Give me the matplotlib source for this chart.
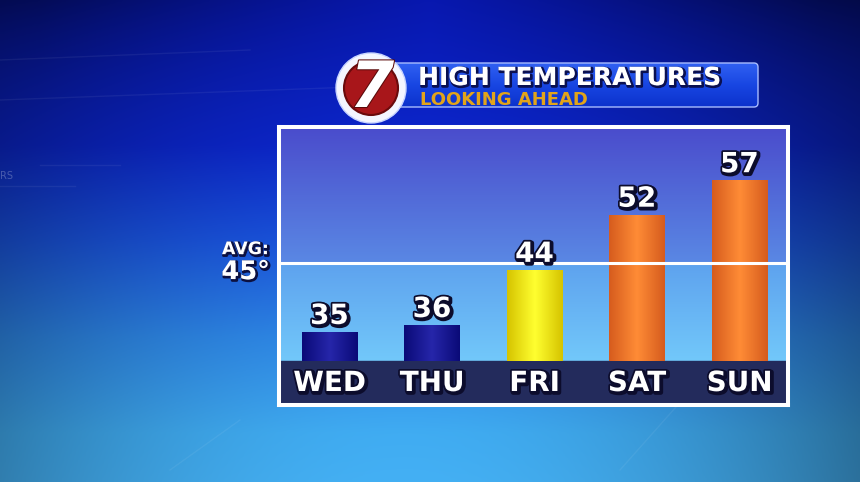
import numpy as np
import matplotlib
matplotlib.use("Agg")
import matplotlib.pyplot as plt
from matplotlib.patches import FancyBboxPatch, Circle
from matplotlib.colors import to_rgb, LinearSegmentedColormap
import matplotlib.patheffects as pe
import matplotlib.transforms as mtrans

# ---------------- data ----------------
days = ["WED", "THU", "FRI", "SAT", "SUN"]
highs = [35, 36, 44, 52, 57]
avg_high = 45
title = "HIGH TEMPERATURES"
subtitle = "LOOKING AHEAD"
avg_label = "AVG:"
avg_value_label = "45°"

# ---------------- style ----------------
plt.rcParams['font.family'] = ['DejaVu Sans']
W, H = 860, 482
BASE = 30.79            # temperature at the floor of the bars
YLIM = (24.41, 64.73)
XLIM = (-0.493, 4.473)
bar_edge = {"navy": "#0a0a78", "yellow": "#d6c400", "orange": "#d65c1e"}
bar_mid = {"navy": "#2626aa", "yellow": "#ffff30", "orange": "#ff8c36"}
bar_kind = ["navy", "navy", "yellow", "orange", "orange"]

fig = plt.figure(figsize=(8.6, 4.82), dpi=100)

# ---------------- background ----------------
bg = fig.add_axes([0, 0, 1, 1])
bg.set_xlim(0, W)
bg.set_ylim(H, 0)
bg.axis('off')
ny, nx = 241, 431
yy, xx = np.mgrid[0:1:ny * 1j, 0:1:nx * 1j]
stops_t = [0.0, 0.3, 0.5, 0.7, 0.9, 1.0]
stops_c = [to_rgb(c) for c in ["#0818b0", "#0c26cc", "#1a54de", "#2e88e8", "#40acf2", "#44b0f4"]]
img = np.zeros((ny, nx, 3))
for k in range(3):
    img[..., k] = np.interp(yy, stops_t, [c[k] for c in stops_c])
vign = 1 - 0.36 * ((xx - 0.47) / 0.53) ** 2
topdark = 1 - 0.35 * np.exp(-yy / 0.15) * np.clip(np.abs(xx - 0.5) * 2.2, 0, 1)
img = np.clip(img * vign[..., None] * topdark[..., None], 0, 1)
bg.imshow(img, extent=[0, W, H, 0], aspect='auto', zorder=0)

# faint decoration
for (x0, y0, x1, y1) in [(0, 100, 600, 78), (0, 186, 75, 186), (40, 165, 120, 165),
                         (0, 60, 250, 50), (620, 470, 700, 380), (170, 470, 240, 420)]:
    bg.plot([x0, x1], [y0, y1], color='white', alpha=0.06, lw=1, zorder=1)
bg.text(0, 176, "RS", color='white', alpha=0.25, fontsize=7, va='center', ha='left', zorder=1)

# ---------------- title banner ----------------
banner = FancyBboxPatch((392, 63), 366, 44, boxstyle="round,pad=0,rounding_size=4",
                        facecolor='#1238d8', edgecolor='none', zorder=2)
bg.add_patch(banner)
bcmap = LinearSegmentedColormap.from_list("ban", ["#3060f2", "#1846e2", "#0c32cc"])
bimg = bg.imshow(np.linspace(0, 1, 50)[:, None], extent=[392, 758, 107, 63],
                 cmap=bcmap, aspect='auto', zorder=2.1)
bimg.set_clip_path(banner)
bg.add_patch(FancyBboxPatch((392, 63), 366, 44, boxstyle="round,pad=0,rounding_size=4",
                            facecolor='none', edgecolor='#a8bcff', lw=1.0, zorder=2.2))

shadow = [pe.Stroke(linewidth=2, foreground='#0a1050', offset=(1, -1)), pe.Normal()]
bg.text(418, 85, title, color='white', fontsize=18, fontweight='bold',
        ha='left', va='baseline', zorder=3, path_effects=shadow)
bg.text(420, 105, subtitle, color='#e2a41a', fontsize=13, fontweight='bold',
        ha='left', va='baseline', zorder=3)

# logo
bg.add_patch(Circle((371, 88), 35, facecolor='#f4f6ff', edgecolor='#c8d4ff', lw=1, zorder=4))
bg.add_patch(Circle((371, 88), 27, facecolor='#a8161a', edgecolor='#6a0a0c', lw=1.5, zorder=4.1))
bg.text(372, 89, "7", color='white', fontsize=46, fontweight='bold', style='italic',
        ha='center', va='center', zorder=4.2,
        path_effects=[pe.Stroke(linewidth=1.5, foreground='#5a0a0a'), pe.Normal()])

# ---------------- chart ----------------
ax = fig.add_axes([279 / W, 1 - 405 / H, (788 - 279) / W, (405 - 127) / H])
ax.set_xlim(*XLIM)
ax.set_ylim(*YLIM)
ax.set_xticks([])
ax.set_yticks([])
for s in ax.spines.values():
    s.set_color('white')
    s.set_linewidth(2.9)
    s.set_zorder(10)

# inner gradient
yv = np.linspace(YLIM[1], YLIM[0], 300)
top_c = [to_rgb(c) for c in ["#4a4ccc", "#5a88e4"]]
low_c = [to_rgb(c) for c in ["#5ea2ee", "#72c8fa"]]
col = np.zeros((300, 1, 3))
for i, v in enumerate(yv):
    if v >= avg_high:
        t = (YLIM[1] - v) / (YLIM[1] - avg_high)
        c = [(1 - t) * a + t * b for a, b in zip(*top_c)]
    else:
        t = min(1, (avg_high - v) / (avg_high - BASE))
        c = [(1 - t) * a + t * b for a, b in zip(*low_c)]
    col[i, 0] = c
ax.imshow(col, extent=[XLIM[0], XLIM[1], YLIM[0], YLIM[1]], aspect='auto', zorder=0)

ax.axhspan(YLIM[0], BASE, color='#232b5c', zorder=1)

x = np.arange(len(days))
heights = [h - BASE for h in highs]
bars = ax.bar(x, heights, bottom=BASE, width=0.546,
              color=[bar_edge[k] for k in bar_kind], zorder=3)
for b, k in zip(bars, bar_kind):
    cm = LinearSegmentedColormap.from_list("b", [bar_edge[k], bar_mid[k], bar_edge[k]])
    g = ax.imshow(np.linspace(0, 1, 64)[None, :], cmap=cm, aspect='auto',
                  extent=[b.get_x(), b.get_x() + b.get_width(), b.get_y(), b.get_y() + b.get_height()],
                  zorder=3.1)
    g.set_clip_path(b)

ax.axhline(avg_high, color='white', lw=2.2, zorder=4)

txt_fx = [pe.Stroke(linewidth=3.5, foreground='#0c0c2c', offset=(1, -1)),
          pe.Stroke(linewidth=2.5, foreground='#0c0c2c'), pe.Normal()]
for xi, h in zip(x, highs):
    ax.annotate(str(h), (xi, h), xytext=(0, 1.5), textcoords='offset points',
                ha='center', va='bottom', color='white', fontsize=20,
                fontweight='bold', zorder=5, path_effects=txt_fx)
for xi, d in zip(x, days):
    ax.text(xi, (YLIM[0] + BASE) / 2, d, ha='center', va='center', color='white',
            fontsize=20, fontweight='bold', zorder=5, path_effects=txt_fx)

# average annotation left of box
tr = mtrans.blended_transform_factory(ax.transAxes, ax.transData)
avg_fx = [pe.Stroke(linewidth=2, foreground='#0c1040', offset=(1, -1)), pe.Normal()]
ax.annotate(avg_label, (0, avg_high), xycoords=tr, xytext=(-24, 10), textcoords='offset points',
            ha='center', va='center', color='white', fontsize=12.5, fontweight='bold',
            annotation_clip=False, path_effects=avg_fx)
ax.annotate(avg_value_label, (0, avg_high), xycoords=tr, xytext=(-24, -6.5), textcoords='offset points',
            ha='center', va='center', color='white', fontsize=18.5, fontweight='bold',
            annotation_clip=False, path_effects=avg_fx)

fig.savefig("out.png", dpi=100)
